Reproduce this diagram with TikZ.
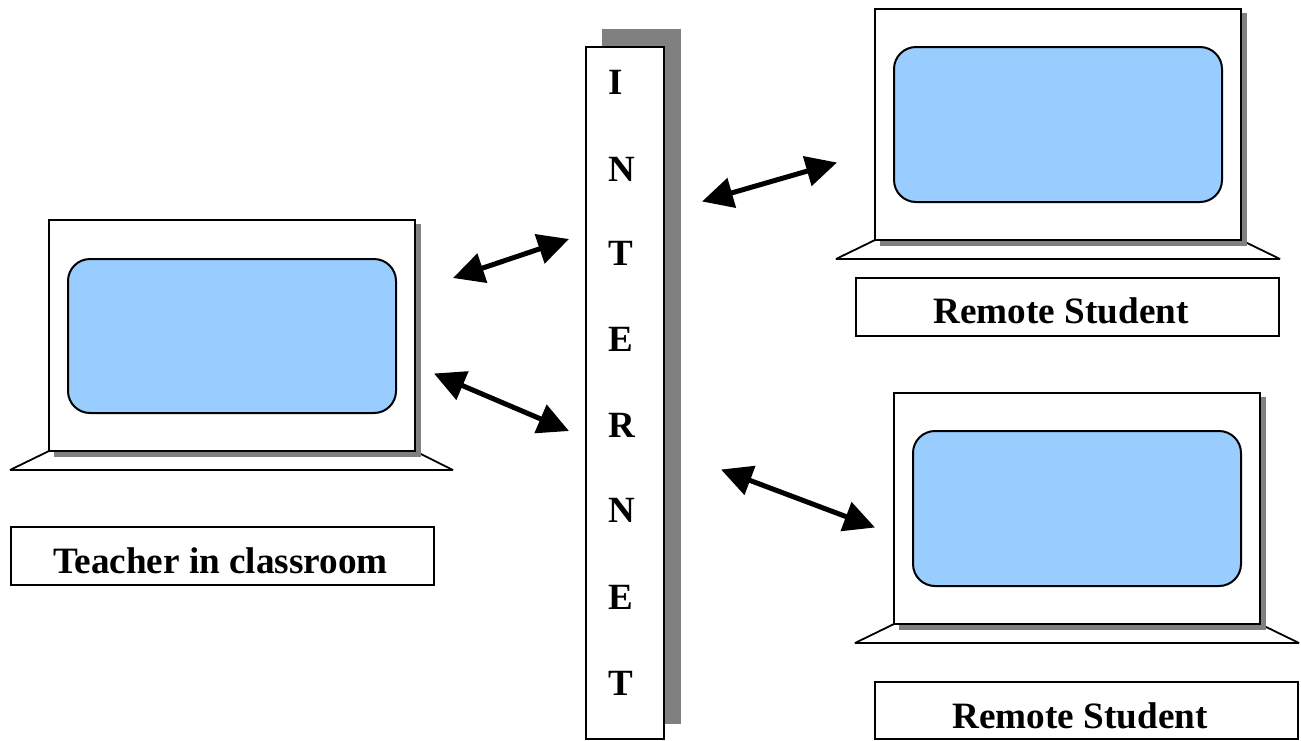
\documentclass[tikz,border=0pt]{standalone}
\usepackage{fontspec}
\setmainfont{Liberation Serif}
\usetikzlibrary{arrows.meta}
\definecolor{scr}{RGB}{153,204,255}
\definecolor{shd}{RGB}{128,128,128}
\tikzset{
  x=1pt,y=-1pt,
  outline/.style={draw=black,line width=2pt,line join=miter},
  lid/.style={outline,fill=white},
  shadowbox/.style={fill=shd,draw=none},
  screenbox/.style={outline,fill=scr,rounded corners=22pt},
  basetrap/.style={draw=black,line width=1.8pt,line join=bevel,fill=white},
  labelbox/.style={draw=black,line width=1.6pt,fill=white},
  labeltext/.style={font=\fontsize{37.2}{40}\selectfont\bfseries,inner sep=0pt,anchor=base},
  letter/.style={font=\fontsize{37}{40}\selectfont\bfseries,inner sep=0pt,anchor=base west},
  dbl/.style={line width=5pt,{Triangle[length=31pt,width=30pt]}-{Triangle[length=31pt,width=30pt]}}
}
\begin{document}
\begin{tikzpicture}
\useasboundingbox (0,0) rectangle (1301,740);
% left laptop
\path[basetrap] (49,451) -- (10,470) -- (453,470) -- (415,451) -- cycle;
\fill[shadowbox] (54,224) rectangle (421,457);
\path[lid] (49,220) rectangle (415,451);
\path[screenbox] (68,259) rectangle (396,413);
% right top laptop
\path[basetrap] (875,240) -- (836,259) -- (1280,259) -- (1241,240) -- cycle;
\fill[shadowbox] (880,13) rectangle (1247,246);
\path[lid] (875,9) rectangle (1241,240);
\path[screenbox] (894,47) rectangle (1222,202);
% right bottom laptop
\path[basetrap] (894,624) -- (855,643) -- (1299,643) -- (1260,624) -- cycle;
\fill[shadowbox] (899,397) rectangle (1266,630);
\path[lid] (894,393) rectangle (1260,624);
\path[screenbox] (913,431) rectangle (1241,586);
% internet
\fill[shadowbox] (602,29) rectangle (681,724);
\path[lid] (586,47) rectangle (664,739);
\foreach \n/\c/\y in {a/I/94.5,b/N/181.5,c/T/265.5,d/E/351.5,e/R/437.5,f/N/522.5,g/E/609.5,h/T/695.5}
  \node[letter] (let\n) at (608,\y) {\c};
% label boxes
\path[labelbox] (11,527) rectangle (434,585);
\path[labelbox] (856,278) rectangle (1279,336);
\path[labelbox] (875,682) rectangle (1298,739.2);
\node[labeltext] (teacher) at (220.5,573) {Teacher in classroom};
\node[labeltext] (remoteA) at (1061,323) {Remote Student};
\node[labeltext] (remoteB) at (1080,728) {Remote Student};
% arrows
\coordinate (a1) at (453,278); \coordinate (a2) at (569,239);
\coordinate (b1) at (434,373.5); \coordinate (b2) at (569,431);
\coordinate (c1) at (702,201.5); \coordinate (c2) at (837,162.5);
\coordinate (d1) at (721,469.5); \coordinate (d2) at (875,527.5);
\draw[dbl] (a1) -- (a2);
\draw[dbl] (b1) -- (b2);
\draw[dbl] (c1) -- (c2);
\draw[dbl] (d1) -- (d2);
\end{tikzpicture}
\end{document}
